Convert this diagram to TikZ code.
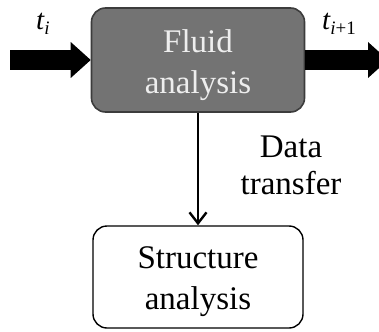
\documentclass[tikz,border=0pt]{standalone}
\usepackage{fontspec}
\setmainfont{Liberation Serif}
\usetikzlibrary{arrows.meta}
\definecolor{boxgray}{RGB}{115,115,115}
\definecolor{boxedge}{RGB}{60,60,60}
\definecolor{boxtext}{RGB}{238,238,238}
\begin{document}
\begin{tikzpicture}[x=1pt,y=-1pt,
  fluidbox/.style={draw=boxedge,line width=1.6pt,fill=boxgray,rounded corners=14pt,
    minimum width=213pt,minimum height=104pt,inner sep=0pt},
  structbox/.style={draw=black,line width=1.4pt,fill=white,rounded corners=14pt,
    minimum width=210pt,minimum height=102pt,inner sep=0pt},
  bigtext/.style={align=center,inner sep=0pt,font=\fontsize{33}{41}\selectfont},
  timelabel/.style={inner sep=0pt,anchor=base west,font=\fontsize{29}{30}\selectfont\itshape},
  flow/.style={line width=20pt,-{Triangle[length=20pt,width=36pt,line width=0pt]}},
  transfer/.style={line width=2.4pt,-{Straight Barb[length=11pt,width=17pt,line width=2.4pt]}}
]
\useasboundingbox (0,0) rectangle (379,331);

% process boxes
\node[fluidbox] (fluid) at (198,60) {};
\node[bigtext,text=boxtext] (fluidlbl) at (198,65) {Fluid\\analysis};
\node[structbox] (struct) at (198,277) {};
\node[bigtext] (structlbl) at (198,282) {Structure\\analysis};

% time step inputs and outputs
\coordinate (tin) at (10,60);
\coordinate (tout) at (388,60);
\draw[flow] (tin) -- (fluid.west);
\draw[flow] (fluid.east) -- (tout);
\node[timelabel] (ti) at (36,30) {t\raisebox{-5pt}{\fontsize{19}{19}\selectfont i}};
\node[timelabel] (tnext) at (322,30) {t\raisebox{-5pt}{\fontsize{19}{19}\selectfont i\upshape +1}};

% coupling between solvers
\draw[transfer] (fluid.south) -- (struct.north);
\node[bigtext,font=\fontsize{33}{37}\selectfont] (xfer) at (291,165) {Data\\transfer};
\end{tikzpicture}
\end{document}
